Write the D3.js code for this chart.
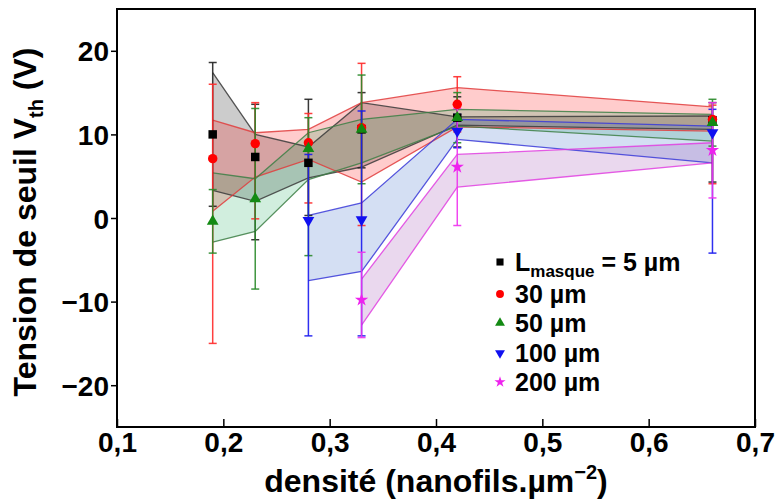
<!DOCTYPE html>
<html><head><meta charset="utf-8">
<script src="https://cdn.jsdelivr.net/npm/d3@7/dist/d3.min.js"></script>
<style>body{margin:0;background:#fff}svg{display:block}text{font-family:"Liberation Sans",Arial,sans-serif;font-weight:bold}</style>
</head><body><svg id="c" width="780" height="502"></svg>
<script>
const xVals = [0.19, 0.23, 0.28, 0.33, 0.42, 0.66];
const xTicks = [0.1, 0.2, 0.3, 0.4, 0.5, 0.6, 0.7];
const yTicks = [-20, -10, 0, 10, 20];
const seriesNames = ["5", "30", "50", "100", "200"];

const mean5   = [10.0, 7.3, 6.6, 10.6, 12.0, 11.7];
const errLo5  = [1.4, -2.6, 0.3, 6.0, 8.5, 4.3];
const errHi5  = [18.6, 13.6, 14.2, 15.0, 14.5, 13.8];
const bandLo5 = [3.3, 2.0, 4.8, 6.1, 11.1, 10.6];
const bandHi5 = [17.4, 10.0, 8.5, 13.8, 12.1, 12.2];

const mean30   = [7.1, 8.9, 9.0, 10.8, 13.6, 11.8];
const errLo30  = [-15.0, -0.1, 1.8, -0.9, 10.3, 4.1];
const errHi30  = [16.0, 13.8, 12.5, 18.5, 16.9, 13.5];
const bandLo30 = [0.8, 4.9, 7.0, 4.3, 10.9, 10.4];
const bandHi30 = [11.7, 10.2, 10.6, 13.8, 15.6, 13.3];

const mean50   = [-0.4, 2.3, 8.3, 10.6, 12.0, 11.4];
const errLo50  = [-4.2, -8.5, -4.5, 4.1, 9.0, 8.6];
const errHi50  = [3.4, 13.1, 12.0, 17.1, 15.0, 14.2];
const bandLo50 = [-2.9, -1.6, 4.6, 6.6, 11.0, 9.2];
const bandHi50 = [5.4, 4.7, 10.2, 11.8, 13.0, 12.4];

const mean100   = [null, null, -0.3, -0.2, 10.4, 10.2];
const errLo100  = [null, null, -14.1, -14.1, 8.4, -4.2];
const errHi100  = [null, null, 7.6, 12.8, 12.4, 13.0];
const bandLo100 = [null, null, -7.5, -6.4, 9.4, 6.6];
const bandHi100 = [null, null, 0.3, 1.8, 11.8, 11.0];

const mean200   = [null, null, null, -9.8, 6.1, 8.1];
const errLo200  = [null, null, null, -14.3, -0.9, 2.4];
const errHi200  = [null, null, null, -4.1, 13.1, 13.8];
const bandLo200 = [null, null, null, -12.8, 3.7, 6.6];
const bandHi200 = [null, null, null, -7.3, 7.6, 9.0];

const styles = [
  {name:"5",   line:"#3a3a3a", err:"#222222", fill:"rgba(0,0,0,0.2)",        mk:"#000000", sym:d3.symbolSquare,   size:72, rot:0},
  {name:"30",  line:"#e03c3c", err:"#ff2a2a", fill:"rgba(255,0,0,0.2)",      mk:"#ff0000", sym:d3.symbolCircle,   size:70, rot:0},
  {name:"50",  line:"#3d7f45", err:"#2a8a2a", fill:"rgba(0,160,70,0.18)",    mk:"#138a13", sym:d3.symbolTriangle, size:60, rot:0},
  {name:"100", line:"#3a3ad8", err:"#1a1aee", fill:"rgba(60,110,200,0.22)",  mk:"#1010f0", sym:d3.symbolTriangle, size:60, rot:180},
  {name:"200", line:"#e040e0", err:"#ee33ee", fill:"rgba(150,60,170,0.2)",   mk:"#ee22ee", sym:d3.symbolStar,     size:55, rot:0}
];
const data = [
  {mean:mean5, lo:errLo5, hi:errHi5, bl:bandLo5, bh:bandHi5},
  {mean:mean30, lo:errLo30, hi:errHi30, bl:bandLo30, bh:bandHi30},
  {mean:mean50, lo:errLo50, hi:errHi50, bl:bandLo50, bh:bandHi50},
  {mean:mean100, lo:errLo100, hi:errHi100, bl:bandLo100, bh:bandHi100},
  {mean:mean200, lo:errLo200, hi:errHi200, bl:bandLo200, bh:bandHi200}
].map((s,i)=>({...s, style:styles[i],
  pts: xVals.map((x,j)=>({x, m:s.mean[j], lo:s.lo[j], hi:s.hi[j], bl:s.bl[j], bh:s.bh[j]})).filter(p=>p.m!==null)}));

const svg = d3.select("#c");
const L = 117, R = 755, T = 9, B = 427;
const x = d3.scaleLinear().domain([0.1, 0.7]).range([L, R]);
const y = d3.scaleLinear().domain([-25, 25]).range([B, T]);

const g = svg.append("g");
const area = d3.area().x(d=>x(d.x)).y0(d=>y(d.bl)).y1(d=>y(d.bh));
const lineHi = d3.line().x(d=>x(d.x)).y(d=>y(d.bh));
const lineLo = d3.line().x(d=>x(d.x)).y(d=>y(d.bl));
data.forEach(s=>{
  g.append("path").attr("d", area(s.pts)).attr("fill", s.style.fill).attr("stroke","none");
});
data.forEach(s=>{
  [lineHi, lineLo].forEach(ln=>g.append("path").attr("d", ln(s.pts)).attr("fill","none")
    .attr("stroke", s.style.line).attr("stroke-width",1.3).attr("stroke-opacity",0.85));
});
data.forEach(s=>{
  const eg = g.append("g").attr("stroke", s.style.err).attr("stroke-width",1.5).attr("stroke-opacity",0.9);
  s.pts.forEach(p=>{
    eg.append("line").attr("x1",x(p.x)).attr("x2",x(p.x)).attr("y1",y(p.lo)).attr("y2",y(p.hi));
    [p.lo,p.hi].forEach(v=>eg.append("line").attr("x1",x(p.x)-4).attr("x2",x(p.x)+4).attr("y1",y(v)).attr("y2",y(v)));
  });
});
data.forEach(s=>{
  const sym = d3.symbol().type(s.style.sym).size(s.style.size);
  g.selectAll(null).data(s.pts).enter().append("path").attr("d", sym)
    .attr("transform", p=>`translate(${x(p.x)},${y(p.m)}) rotate(${s.style.rot})`)
    .attr("fill", s.style.mk);
});

const FONT = "Liberation Sans, Arial, sans-serif";
const fmtX = d => d3.format(".1f")(d).replace(".", ",");
const ax = svg.append("g").attr("transform",`translate(0,${B})`)
  .call(d3.axisBottom(x).tickValues(xTicks).tickSize(-8).tickSizeOuter(0).tickFormat(fmtX));
ax.select(".domain").remove();
ax.selectAll("line").attr("stroke","#000").attr("stroke-width",1.5);
ax.selectAll("text").attr("y",25).attr("dy",0).attr("font-size",28).attr("fill","#000").attr("font-family",FONT);
const ay = svg.append("g").attr("transform",`translate(${L},0)`)
  .call(d3.axisLeft(y).tickValues(yTicks).tickSize(6).tickSizeOuter(0));
ay.select(".domain").remove();
ay.selectAll("line").attr("stroke","#000").attr("stroke-width",1.5);
ay.selectAll("text").attr("x",-8).attr("dy","0.36em").attr("font-size",28).attr("fill","#000").attr("font-family",FONT);

svg.append("rect").attr("x",L).attr("y",T).attr("width",R-L).attr("height",B-T)
  .attr("fill","none").attr("stroke","#000").attr("stroke-width",2);

const yt = svg.append("text").attr("transform",`translate(36,${(T+B)/2+4}) rotate(-90)`)
  .attr("text-anchor","middle").attr("font-size",32).attr("fill","#000");
yt.append("tspan").text("Tension de seuil V");
yt.append("tspan").attr("font-size",20).attr("dy",7).text("th");
yt.append("tspan").attr("dy",-7).text(" (V)");

const xt = svg.append("text").attr("x",(L+R)/2).attr("y",492).attr("text-anchor","middle")
  .attr("font-size",32).attr("fill","#000");
xt.append("tspan").text("densité (nanofils.µm");
xt.append("tspan").attr("font-size",20).attr("dy",-13).text("−2");
xt.append("tspan").attr("dy",13).text(")");

const legendLabels = ["5 µm", "30 µm", "50 µm", "100 µm", "200 µm"];
const legendY = [262, 294, 323, 353, 382];
const lg = svg.append("g");
styles.forEach((st,i)=>{
  const yy = legendY[i];
  const sym = d3.symbol().type(st.sym).size(st.size*0.7);
  lg.append("path").attr("d",sym).attr("transform",`translate(500,${yy}) rotate(${st.rot})`).attr("fill",st.mk);
  const t = lg.append("text").attr("x",515).attr("y",yy+9).attr("font-size",25).attr("fill","#000");
  if(i===0){
    t.append("tspan").text("L");
    t.append("tspan").attr("font-size",17).attr("dy",6).text("masque");
    t.append("tspan").attr("dy",-6).text(" = " + legendLabels[0]);
  } else t.text(legendLabels[i]);
});
</script></body></html>
